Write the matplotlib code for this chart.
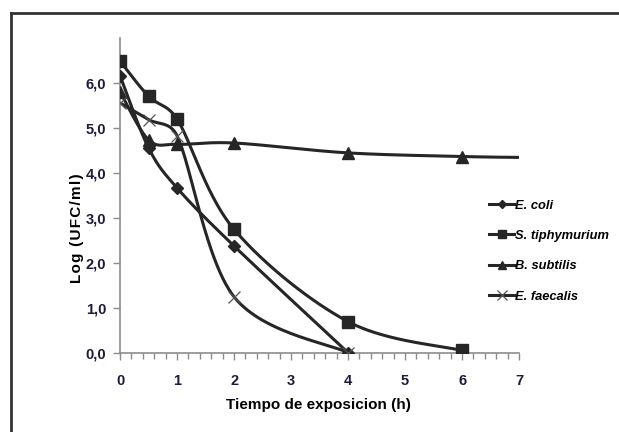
import numpy as np
import matplotlib
matplotlib.use("Agg")
import matplotlib.pyplot as plt
from matplotlib.lines import Line2D
from matplotlib.ticker import MultipleLocator, FuncFormatter

# data
hours = [0, 0.5, 1, 2, 4]
ecoli = [6.15, 4.55, 3.66, 2.37, 0.0]

hours_st = [0, 0.5, 1, 2, 4, 6]
styphi = [6.48, 5.70, 5.19, 2.74, 0.69, 0.05]

hours_bs = [0, 0.5, 1, 2, 4, 6, 7]
bsub = [5.80, 4.73, 4.63, 4.66, 4.44, 4.36, 4.34]

hours_ef = [0, 0.5, 1, 2, 4]
efaec = [5.55, 5.18, 4.82, 1.24, 0.0]

labels = ["E. coli", "S. tiphymurium", "B. subtilis", "E. faecalis"]

# pixel size of one unit on each axis (Excel smooths in screen space)
XU, YU = 57.0, 45.0


def smooth(xs, ys, n=50):
    # Excel style "smoothed line": bezier segments, control arm = 1/6 of the
    # neighbour chord but never more than half of the segment itself
    p = np.column_stack([np.array(xs) * XU, np.array(ys) * YU])
    out = [p[0]]
    for i in range(len(p) - 1):
        p0 = p[i - 1] if i > 0 else p[i]
        p1 = p[i]
        p2 = p[i + 1]
        p3 = p[i + 2] if i + 2 < len(p) else p[i + 1]
        d12 = np.linalg.norm(p2 - p1)
        d02 = np.linalg.norm(p2 - p0)
        d13 = np.linalg.norm(p3 - p1)
        f1 = 1 / 6.0
        f2 = 1 / 6.0
        if d02 / 6.0 >= d12 / 2.0 and d02 > 0:
            f1 = d12 / d02 / 2.0
        if d13 / 6.0 >= d12 / 2.0 and d13 > 0:
            f2 = d12 / d13 / 2.0
        c1 = p1 + (p2 - p0) * f1
        c2 = p2 - (p3 - p1) * f2
        t = np.linspace(0, 1, n)[1:, None]
        seg = ((1 - t) ** 3) * p1 + 3 * ((1 - t) ** 2) * t * c1 + 3 * (1 - t) * t ** 2 * c2 + t ** 3 * p2
        out.extend(seg)
    out = np.array(out)
    return out[:, 0] / XU, out[:, 1] / YU


font = ["Liberation Sans", "DejaVu Sans"]

fig = plt.figure(figsize=(6.19, 4.32), dpi=100)
ax = fig.add_axes([0.194, 0.1836, 0.6446, 0.7291])

col = "#262626"
lw = 2.2

series = [
    (hours, ecoli, "D", 6.5, None),
    (hours_st, styphi, "s", 8, None),
    (hours_bs, bsub, "^", 8, list(range(6))),
    (hours_ef, efaec, "x", 9, None),
]

handles = []
for (xs, ys, m, ms, every), lab in zip(series, labels):
    sx, sy = smooth(xs, ys)
    ax.plot(sx, sy, color=col, lw=lw, zorder=2)
    if every is not None:
        mx = [xs[i] for i in every]
        my = [ys[i] for i in every]
    else:
        mx, my = xs, ys
    if m == "x":
        ax.plot(mx, my, ls="none", marker=m, ms=ms, mew=0.9, color="#555555", zorder=3)
        h = Line2D([], [], color=col, lw=lw, marker=m, ms=7, mew=0.9, mec="#555555")
    else:
        ax.plot(mx, my, ls="none", marker=m, ms=ms, color=col, zorder=3)
        h = Line2D([], [], color=col, lw=lw, marker=m, ms=ms - 2)
    handles.append(h)

ax.set_xlim(0, 7)
ax.set_ylim(0, 7)
ax.xaxis.set_major_locator(MultipleLocator(1))
ax.xaxis.set_minor_locator(MultipleLocator(0.2))
ax.set_yticks([0, 1, 2, 3, 4, 5, 6])
ax.yaxis.set_major_formatter(FuncFormatter(lambda v, p: ("%.1f" % v).replace(".", ",")))

for s in ["top", "right"]:
    ax.spines[s].set_visible(False)
for s in ["left", "bottom"]:
    ax.spines[s].set_color("#8c8c8c")
    ax.spines[s].set_linewidth(1.2)

tick_col = "#1c1c38"
ax.tick_params(which="both", direction="out", color="#8c8c8c", width=1)
ax.tick_params(which="major", length=5, labelsize=10.5, labelcolor=tick_col)
ax.tick_params(axis="x", which="major", pad=10)
ax.tick_params(axis="y", which="major", pad=5)
ax.tick_params(which="minor", length=4)
for t in ax.get_xticklabels() + ax.get_yticklabels():
    t.set_fontfamily(font)
    t.set_fontweight("bold")

ax.set_xlabel("Tiempo de exposicion (h)", fontsize=11, fontweight="bold", family=font)
ax.xaxis.set_label_coords((318 - 120) / 399, -(398 - 352.7) / 315)

# the y title is letter-spaced in the picture
ylab = "\u200a".join("Log (UFC/ml)")
ax.set_ylabel(ylab, fontsize=11, fontweight="bold", family=font)
ax.yaxis.set_label_coords((84 - 120) / 399, (352.7 - 228) / 315)

leg = fig.legend(handles, labels, loc="upper left", bbox_to_anchor=(0.772, 0.565),
                 frameon=False, handlelength=1.9, handletextpad=0.1, labelspacing=1.42,
                 prop={"family": font, "style": "italic", "weight": "bold", "size": 9.3})

# outer frame of the figure (only left and top visible in the picture)
fig.add_artist(Line2D([0.018, 0.018], [0.0, 0.97], color="#333333", lw=2, transform=fig.transFigure))
fig.add_artist(Line2D([0.018, 1.0], [0.97, 0.97], color="#333333", lw=2, transform=fig.transFigure))

fig.savefig("out.png", dpi=100)
